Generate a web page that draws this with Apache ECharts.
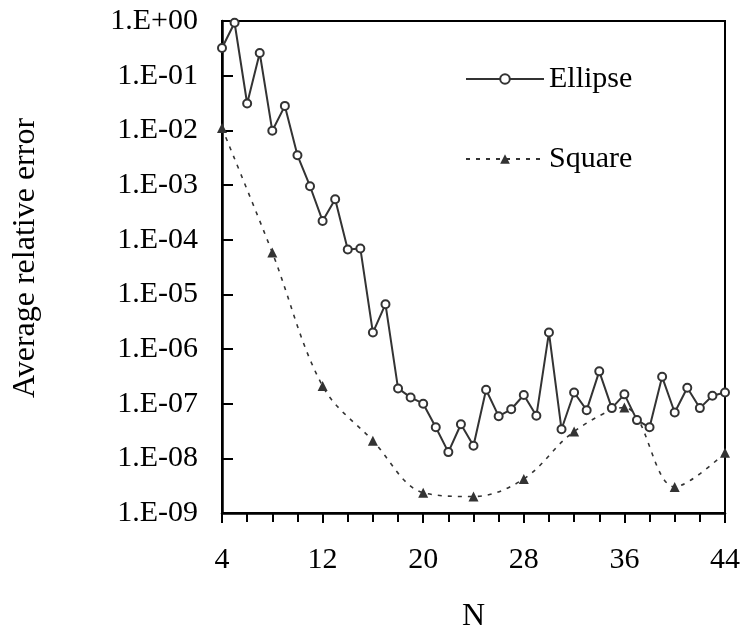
<!DOCTYPE html>
<html>
<head>
<meta charset="utf-8">
<script src="https://cdn.jsdelivr.net/npm/echarts@6/dist/echarts.min.js"></script>
<style>
  html, body { margin: 0; padding: 0; background: #fff; }
  #chart { width: 743px; height: 632px; }
</style>
</head>
<body>
<div id="chart"></div>
<script>
'use strict';

// N values and errors
var ellipseN = [4, 5, 6, 7, 8, 9, 10, 11, 12, 13, 14, 15, 16, 17, 18, 19, 20, 21, 22, 23, 24,
    25, 26, 27, 28, 29, 30, 31, 32, 33, 34, 35, 36, 37, 38, 39, 40, 41, 42, 43, 44];
var ellipseErr = [3.2e-1, 9.3e-1, 3.1e-2, 2.6e-1, 9.8e-3, 2.8e-2, 3.5e-3, 9.5e-4, 2.2e-4, 5.5e-4,
    6.6e-5, 6.9e-5, 2.0e-6, 6.6e-6, 1.9e-7, 1.3e-7, 1.0e-7, 3.7e-8, 1.3e-8, 4.2e-8, 1.7e-8,
    1.8e-7, 5.9e-8, 7.9e-8, 1.44e-7, 6.0e-8, 2.0e-6, 3.4e-8, 1.6e-7, 7.6e-8, 3.9e-7, 8.3e-8,
    1.48e-7, 5.0e-8, 3.7e-8, 3.1e-7, 6.9e-8, 1.96e-7, 8.3e-8, 1.4e-7, 1.6e-7];

var squareN = [4, 8, 12, 16, 20, 24, 28, 32, 36, 40, 44];
var squareErr = [1.1e-2, 5.8e-5, 2.1e-7, 2.1e-8, 2.35e-9, 2.0e-9, 4.2e-9, 3.1e-8, 8.5e-8, 3.0e-9, 1.26e-8];

var seriesNames = ['Ellipse', 'Square'];

function pairs(xs, ys) {
    return xs.map(function(x, i) {
        return [x, ys[i]];
    });
}

function expLabel(v) {
    var e = Math.round(Math.log(v) / Math.LN10);
    var s = String(Math.abs(e));
    if (s.length < 2) s = '0' + s;
    return '1.E' + (e < 0 ? '-' : '+') + s;
}

var font = 'Liberation Serif';
var chart = echarts.init(document.getElementById('chart'));

var option = {
    animation: false,
    backgroundColor: '#fff',
    textStyle: { fontFamily: font },
    grid: {
        left: 222,
        right: 18,
        top: 21,
        bottom: 119,
        outerBoundsMode: 'none',
        containLabel: false,
        show: true,
        borderColor: '#000',
        borderWidth: 2
    },
    legend: {
        orient: 'vertical',
        left: 465,
        top: 64,
        padding: 0,
        itemWidth: 78,
        itemHeight: 12,
        itemGap: 50,
        itemTextGap: 7,
        textStyle: { fontFamily: font, fontSize: 30, color: '#000' },
        data: seriesNames
    },
    xAxis: {
        type: 'value',
        min: 4,
        max: 44,
        interval: 8,
        name: 'N',
        nameLocation: 'middle',
        nameGap: 88,
        nameTextStyle: { fontFamily: font, fontSize: 32, color: '#000' },
        axisLine: { lineStyle: { color: '#000', width: 2.5 } },
        axisTick: { length: 10, lineStyle: { color: '#000', width: 2 } },
        minorTick: { show: true, splitNumber: 4, length: 9, lineStyle: { color: '#000', width: 2 } },
        splitLine: { show: false },
        axisLabel: { fontFamily: font, fontSize: 30, color: '#000', margin: 32 }
    },
    yAxis: {
        type: 'log',
        logBase: 10,
        min: 1e-9,
        max: 1,
        interval: 1,
        name: 'Average relative error',
        nameLocation: 'middle',
        nameRotate: 90,
        nameGap: 180,
        nameTextStyle: { fontFamily: font, fontSize: 32, color: '#000', padding: [0, 0, 0, 18] },
        axisLine: { show: true, lineStyle: { color: '#000', width: 2.5 } },
        axisTick: { show: true, inside: true, length: 11, lineStyle: { color: '#000', width: 2 } },
        splitLine: { show: false },
        axisLabel: { fontFamily: font, fontSize: 30, color: '#000', margin: 24, formatter: expLabel }
    },
    series: [{
        name: seriesNames[0],
        type: 'line',
        data: pairs(ellipseN, ellipseErr),
        symbol: 'circle',
        symbolSize: 8,
        lineStyle: { color: '#333', width: 2 },
        itemStyle: { color: '#fff', borderColor: '#333', borderWidth: 2 },
        z: 3
    }, {
        name: seriesNames[1],
        type: 'line',
        data: pairs(squareN, squareErr),
        smooth: 0.35,
        symbol: 'triangle',
        symbolSize: 10,
        lineStyle: { color: '#333', width: 1.6, type: [4, 6] },
        itemStyle: { color: '#333' },
        z: 2
    }]
};

chart.setOption(option);
</script>
</body>
</html>
